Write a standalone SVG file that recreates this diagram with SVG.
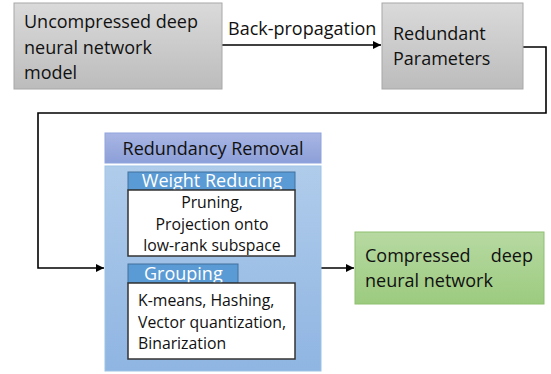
<svg xmlns="http://www.w3.org/2000/svg" width="551" height="374" viewBox="0 0 551 374">
<defs>
<linearGradient id="gGray" x1="0" y1="0" x2="0" y2="1"><stop offset="0" stop-color="#dadada"/><stop offset="1" stop-color="#bcbcbc"/></linearGradient>
<linearGradient id="gGreen" x1="0" y1="0" x2="0" y2="1"><stop offset="0" stop-color="#b7d9a2"/><stop offset="1" stop-color="#9ccb7f"/></linearGradient>
<linearGradient id="gHead" x1="0" y1="0" x2="0" y2="1"><stop offset="0" stop-color="#a9b6e4"/><stop offset="1" stop-color="#8c9fd8"/></linearGradient>
<linearGradient id="gBlue" x1="0" y1="0" x2="0" y2="1"><stop offset="0" stop-color="#b0cceb"/><stop offset="1" stop-color="#8fb5e2"/></linearGradient>
<marker id="arr" viewBox="0 0 10 10" refX="10" refY="5" markerWidth="8" markerHeight="8" markerUnits="userSpaceOnUse" orient="auto"><path d="M0,0 L10,5 L0,10 z" fill="#000"/></marker>
</defs>
<style>
text{font-family:"Open Sans","Noto Sans",sans-serif;fill:#111}
.gray{fill:url(#gGray);stroke:#a8a8a8;stroke-width:1}
.t{font-size:18px}
.s{font-size:15.8px}
.w{fill:#fff;font-size:18px}
.tab{fill:#5b9bd5;stroke:#41719c;stroke-width:1}
.wb{fill:#fff;stroke:#333;stroke-width:1.5}
.conn{fill:none;stroke:#000;stroke-width:1.6}
</style>
<g id="connectors">
<path class="conn" d="M222,45 H381" marker-end="url(#arr)"/>
<path class="conn" d="M523,47 H546 V113 H38 V268 H104" marker-end="url(#arr)"/>
<path class="conn" d="M321,268 H354" marker-end="url(#arr)"/>
<text x="228" y="35" class="t">Back-propagation</text>
</g>
<g id="uncompressed">
<rect class="gray" x="14" y="3" width="208" height="86"/>
<text class="t" x="24" y="28">Uncompressed deep</text>
<text class="t" x="24" y="54">neural network</text>
<text class="t" x="24" y="79">model</text>
</g>
<g id="redundant">
<rect class="gray" x="382" y="3" width="141" height="86"/>
<text class="t" x="393" y="40">Redundant</text>
<text class="t" x="393" y="65">Parameters</text>
</g>
<g id="removal">
<rect x="105" y="133" width="216" height="30" fill="url(#gHead)" stroke="#8fa4dd"/>
<text class="t" x="213" y="155" text-anchor="middle">Redundancy Removal</text>
<rect x="105" y="166" width="216" height="205" fill="url(#gBlue)" stroke="#9dc3e6"/>
</g>
<g id="weight-reducing">
<rect class="tab" x="128" y="172" width="167" height="18"/>
<text class="w" x="212" y="187" text-anchor="middle">Weight Reducing</text>
<rect class="wb" x="128" y="190" width="167" height="66"/>
<text class="s" x="212" y="208" text-anchor="middle">Pruning,</text>
<text class="s" x="212" y="230" text-anchor="middle">Projection onto</text>
<text class="s" x="212" y="251" text-anchor="middle">low-rank subspace</text>
</g>
<g id="grouping">
<rect class="tab" x="128" y="264" width="110" height="19"/>
<text class="w" x="144" y="280">Grouping</text>
<rect class="wb" x="128" y="283" width="167" height="76"/>
<text class="s" x="138" y="306">K-means, Hashing,</text>
<text class="s" x="138" y="328">Vector quantization,</text>
<text class="s" x="138" y="349">Binarization</text>
</g>
<g id="compressed">
<rect x="355" y="232" width="189" height="72" fill="url(#gGreen)" stroke="#8fbf70"/>
<text class="t" x="365" y="262">Compressed</text>
<text class="t" x="533" y="262" text-anchor="end">deep</text>
<text class="t" x="365" y="287">neural network</text>
</g>
</svg>
